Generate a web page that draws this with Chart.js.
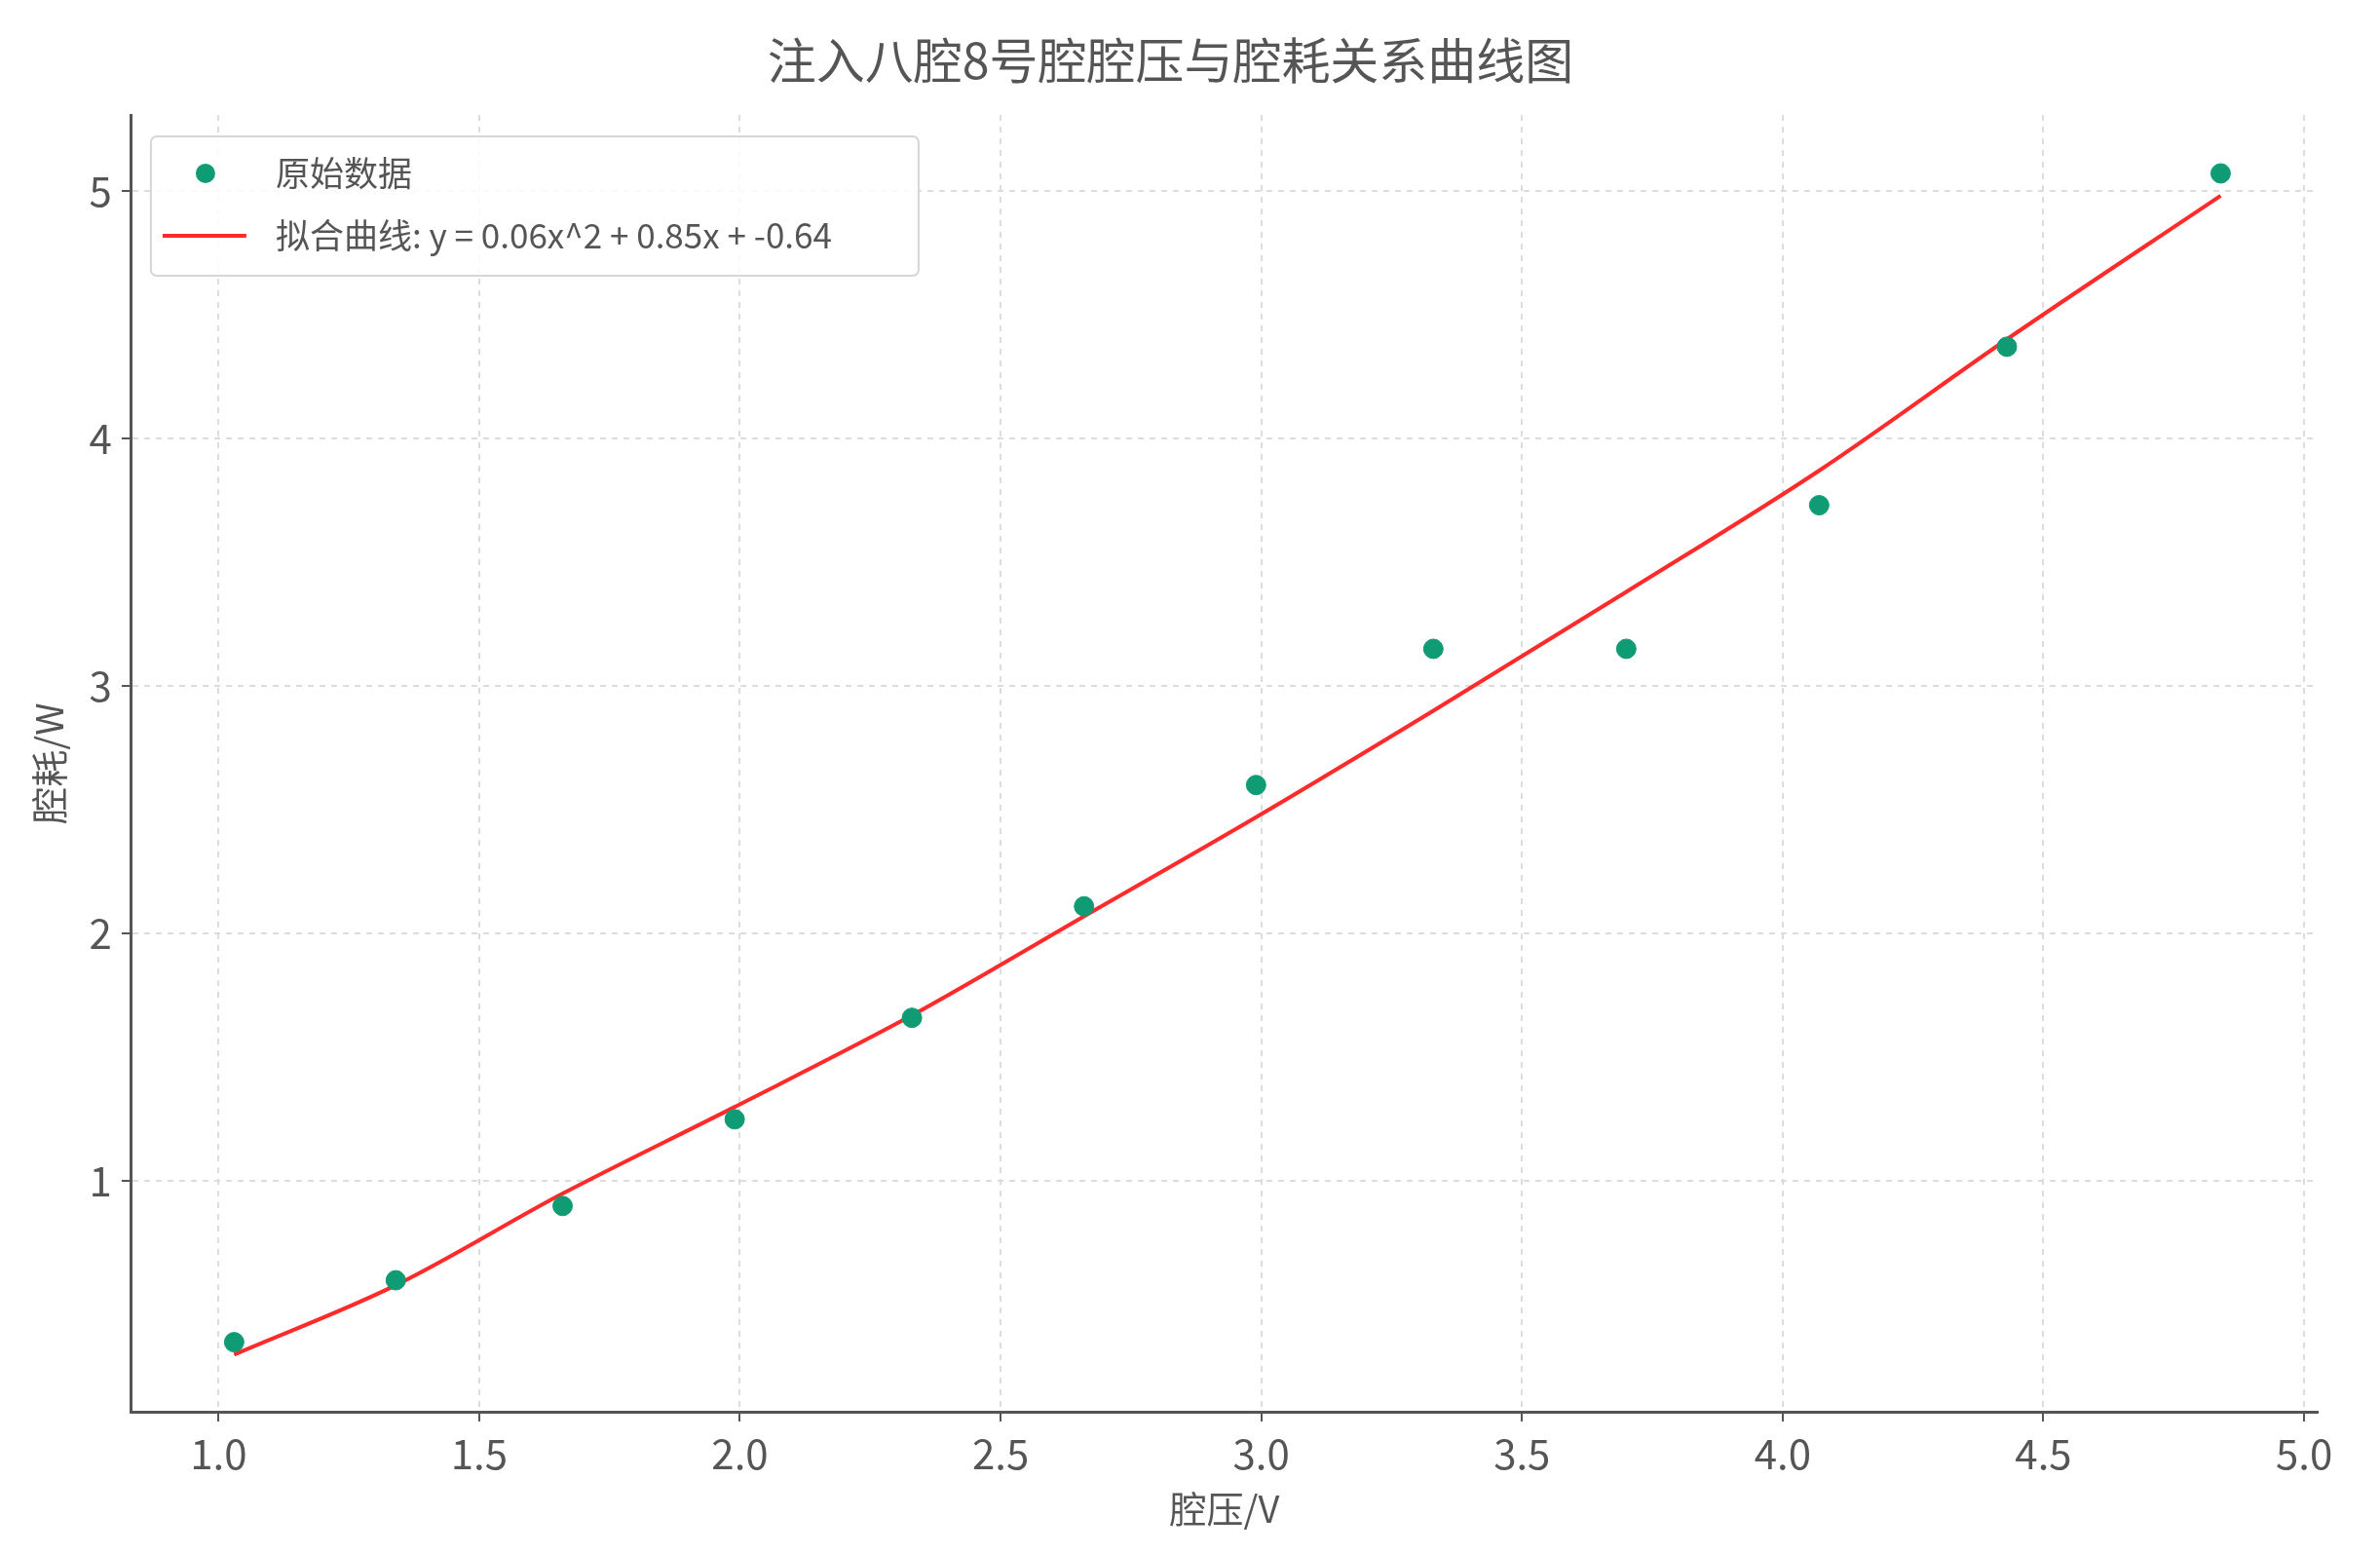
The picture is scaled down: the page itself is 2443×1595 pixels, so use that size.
<!DOCTYPE html>
<html><head><meta charset="utf-8">
<script src="https://cdn.jsdelivr.net/npm/chart.js@4/dist/chart.umd.min.js"></script>
<style>html,body{margin:0;padding:0;background:#fff}#w{width:2443px;height:1595px}</style>
</head><body><div id="w"><canvas id="c"></canvas></div>
<script>
const titleText = '注入八腔8号腔腔压与腔耗关系曲线图';
const xLabel = '腔压/V';
const yLabel = '腔耗/W';
const pointLabel = '原始数据';
const fitLabel = '拟合曲线: y = 0.06x^2 + 0.85x + -0.64';
const voltage = [1.03,1.34,1.66,1.99,2.33,2.66,2.99,3.33,3.70,4.07,4.43,4.84];
const loss =    [0.35,0.60,0.90,1.25,1.66,2.11,2.60,3.15,3.15,3.73,4.37,5.07];
const fitY =    [0.30,0.58,0.95,1.30,1.67,2.07,2.47,2.90,3.38,3.87,4.40,4.98];
const xTicks = [1.0,1.5,2.0,2.5,3.0,3.5,4.0,4.5,5.0];
const yTicks = [1,2,3,4,5];

const FONT = '"Noto Sans CJK SC","Noto Sans",sans-serif';
const legendPlugin = {
  id:'legIn',
  afterDraw(ch){
    const ctx=ch.ctx, a=ch.chartArea;
    const x0=a.left+20, y0=a.top+22, w=788, h=143;
    ctx.save();
    ctx.fillStyle='rgba(255,255,255,0.85)';
    ctx.strokeStyle='#d6d6d6'; ctx.lineWidth=2;
    ctx.beginPath(); ctx.roundRect(x0,y0,w,h,6); ctx.fill(); ctx.stroke();
    ctx.fillStyle='#0f9b74';
    ctx.beginPath(); ctx.arc(x0+56,y0+38,10,0,Math.PI*2); ctx.fill();
    ctx.strokeStyle='#ff2a2a'; ctx.lineWidth=4;
    ctx.beginPath(); ctx.moveTo(x0+12,y0+102); ctx.lineTo(x0+98,y0+102); ctx.stroke();
    ctx.fillStyle='#555'; ctx.font='35px '+FONT; ctx.textBaseline='middle';
    ctx.fillText(ch.data.datasets[0].label,x0+128,y0+38);
    ctx.fillText(ch.data.datasets[1].label,x0+128,y0+102);
    ctx.restore();
  }
};
new Chart(document.getElementById('c'),{
  type:'scatter',
  data:{datasets:[
    {label:pointLabel,data:voltage.map((v,i)=>({x:v,y:loss[i]})),backgroundColor:'#0f9b74',borderColor:'#0f9b74',pointRadius:10,order:0},
    {label:fitLabel,type:'line',data:voltage.map((v,i)=>({x:v,y:fitY[i]})),borderColor:'#ff2a2a',borderWidth:4,pointRadius:0,cubicInterpolationMode:'monotone',fill:false,order:1}
  ]},
  options:{
    responsive:true,maintainAspectRatio:false,animation:false,devicePixelRatio:1,
    layout:{padding:{left:24,right:64,top:10,bottom:20}},
    plugins:{legend:{display:false},tooltip:{enabled:false},
      title:{display:true,text:titleText,color:'#555',font:{family:FONT,size:50,weight:'normal'},padding:{top:22,bottom:26}}},
    scales:{
      x:{type:'linear',min:0.833,max:5.026,
        afterBuildTicks(s){s.ticks=xTicks.map(v=>({value:v}));},
        ticks:{color:'#555',font:{family:FONT,size:42},callback:v=>v.toFixed(1),padding:8},
        grid:{color:'#dcdcdc',lineWidth:2,tickLength:10,tickColor:'#555'},
        border:{display:true,color:'#555',width:3,dash:[6,6]},
        title:{display:true,text:xLabel,color:'#555',font:{family:FONT,size:38},padding:{top:0}}},
      y:{type:'linear',min:0.069,max:5.306,
        afterBuildTicks(s){s.ticks=yTicks.map(v=>({value:v}));},
        ticks:{color:'#555',font:{family:FONT,size:42},padding:10},
        grid:{color:'#dcdcdc',lineWidth:2,tickLength:10,tickColor:'#555'},
        border:{display:true,color:'#555',width:3,dash:[6,6]},
        title:{display:true,text:yLabel,color:'#555',font:{family:FONT,size:38},padding:{bottom:8}}}
    }
  },
  plugins:[legendPlugin]
});
</script></body></html>
